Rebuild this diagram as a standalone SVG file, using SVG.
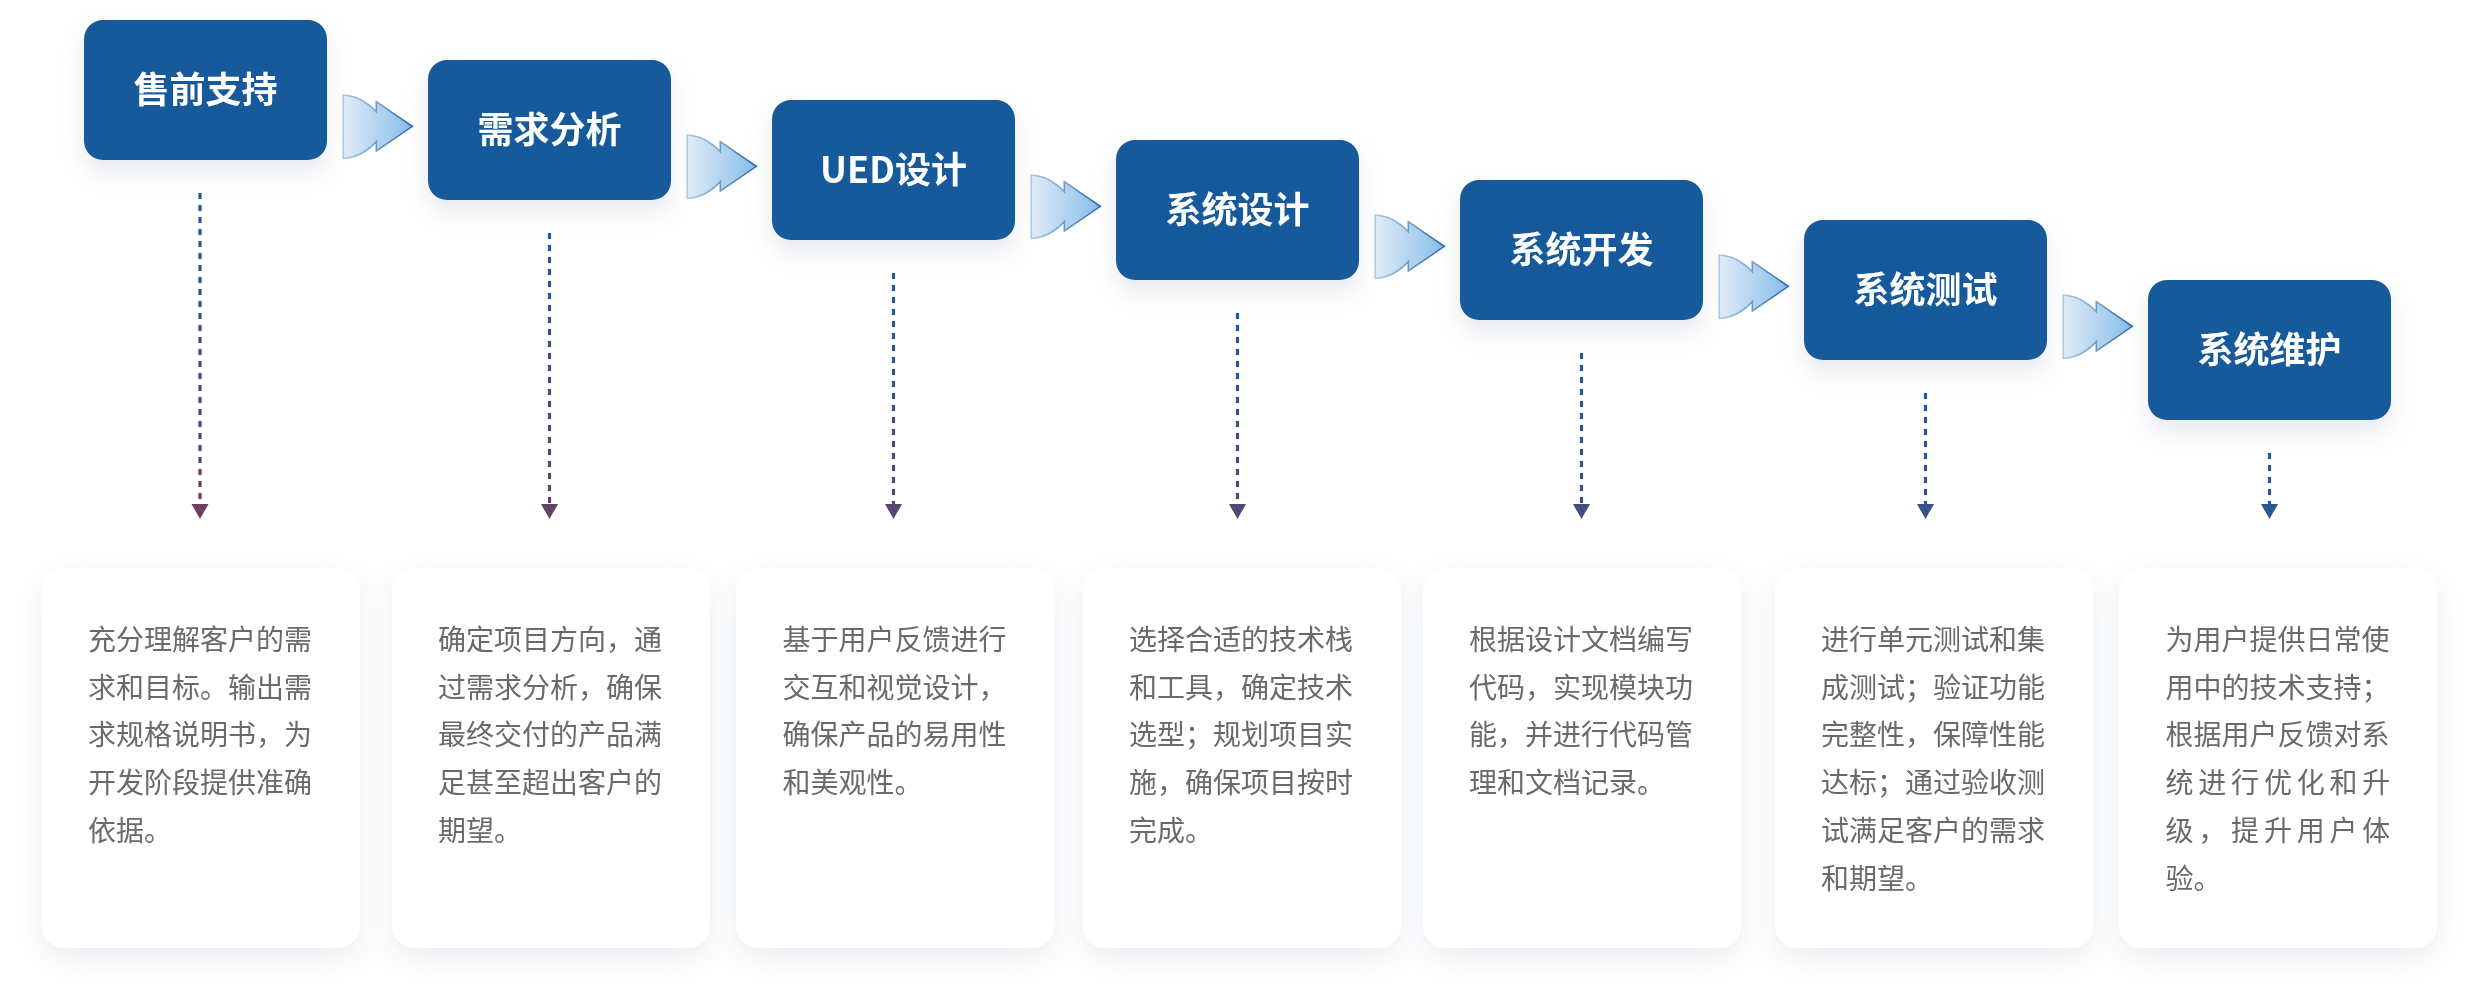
<svg xmlns="http://www.w3.org/2000/svg" width="2478" height="1008" viewBox="0 0 2478 1008">
<style>
.box{fill:#175a9b;}
.title{font-family:"Noto Sans CJK SC","Noto Sans",sans-serif;font-weight:700;font-size:36px;fill:#ffffff;text-anchor:middle;}
.card{fill:#ffffff;}
.desc{font-family:"Noto Sans CJK SC","Noto Sans",sans-serif;font-size:28px;fill:#6a6a6a;}
.chev{fill:url(#chevFill);stroke:url(#chevStroke);stroke-width:1.6;stroke-linejoin:miter;}
.dash{stroke-width:3.2;stroke-dasharray:6 6;fill:none;}
</style>
<defs>
<filter id="boxShadow" x="-30%" y="-30%" width="160%" height="180%">
<feDropShadow dx="0" dy="12" stdDeviation="12" flood-color="#b7c1d1" flood-opacity="0.35"/>
</filter>
<filter id="cardShadow" x="-20%" y="-15%" width="140%" height="135%">
<feDropShadow dx="0" dy="10" stdDeviation="14" flood-color="#cfd5df" flood-opacity="0.45"/>
</filter>
<linearGradient id="chevFill" x1="0" y1="0" x2="1" y2="0">
<stop offset="0" stop-color="#e0ebf6"/>
<stop offset="1" stop-color="#88bde9"/>
</linearGradient>
<linearGradient id="chevStroke" x1="0" y1="0" x2="1" y2="0">
<stop offset="0" stop-color="#aecae4"/>
<stop offset="1" stop-color="#2c68aa"/>
</linearGradient>
<linearGradient id="lg1" gradientUnits="userSpaceOnUse" x1="0" y1="193" x2="0" y2="519"><stop offset="0" stop-color="#1a5c9d"/><stop offset="1" stop-color="#6f3b5f"/></linearGradient>
<linearGradient id="lg2" gradientUnits="userSpaceOnUse" x1="0" y1="233" x2="0" y2="559"><stop offset="0" stop-color="#1a5c9d"/><stop offset="1" stop-color="#6f3b5f"/></linearGradient>
<linearGradient id="lg3" gradientUnits="userSpaceOnUse" x1="0" y1="273" x2="0" y2="599"><stop offset="0" stop-color="#1a5c9d"/><stop offset="1" stop-color="#6f3b5f"/></linearGradient>
<linearGradient id="lg4" gradientUnits="userSpaceOnUse" x1="0" y1="313" x2="0" y2="639"><stop offset="0" stop-color="#1a5c9d"/><stop offset="1" stop-color="#6f3b5f"/></linearGradient>
<linearGradient id="lg5" gradientUnits="userSpaceOnUse" x1="0" y1="353" x2="0" y2="679"><stop offset="0" stop-color="#1a5c9d"/><stop offset="1" stop-color="#6f3b5f"/></linearGradient>
<linearGradient id="lg6" gradientUnits="userSpaceOnUse" x1="0" y1="393" x2="0" y2="719"><stop offset="0" stop-color="#1a5c9d"/><stop offset="1" stop-color="#6f3b5f"/></linearGradient>
<linearGradient id="lg7" gradientUnits="userSpaceOnUse" x1="0" y1="453" x2="0" y2="779"><stop offset="0" stop-color="#1a5c9d"/><stop offset="1" stop-color="#6f3b5f"/></linearGradient>
<path id="chevShape" d="M0,0 Q18,1 33,16.7 L33,6.7 L69,31.3 L33,56 L33,46.6 Q18,62.4 0,63.4 Z"/>
</defs>

<rect width="2478" height="1008" fill="#ffffff"/>

<!-- description cards -->
<g id="card1" filter="url(#cardShadow)"><rect class="card" x="42" y="568" width="318" height="380" rx="22"/>
<text class="desc"><tspan x="88" y="650">充分理解客户的需</tspan><tspan x="88" y="697.7">求和目标。输出需</tspan><tspan x="88" y="745.4">求规格说明书，为</tspan><tspan x="88" y="793.1">开发阶段提供准确</tspan><tspan x="88" y="840.8">依据。</tspan></text></g>
<g id="card2" filter="url(#cardShadow)"><rect class="card" x="392" y="568" width="318" height="380" rx="22"/>
<text class="desc"><tspan x="438" y="650">确定项目方向，通</tspan><tspan x="438" y="697.7">过需求分析，确保</tspan><tspan x="438" y="745.4">最终交付的产品满</tspan><tspan x="438" y="793.1">足甚至超出客户的</tspan><tspan x="438" y="840.8">期望。</tspan></text></g>
<g id="card3" filter="url(#cardShadow)"><rect class="card" x="736" y="568" width="318" height="380" rx="22"/>
<text class="desc"><tspan x="782.5" y="650">基于用户反馈进行</tspan><tspan x="782.5" y="697.7">交互和视觉设计，</tspan><tspan x="782.5" y="745.4">确保产品的易用性</tspan><tspan x="782.5" y="793.1">和美观性。</tspan></text></g>
<g id="card4" filter="url(#cardShadow)"><rect class="card" x="1083" y="568" width="318" height="380" rx="22"/>
<text class="desc"><tspan x="1129" y="650">选择合适的技术栈</tspan><tspan x="1129" y="697.7">和工具，确定技术</tspan><tspan x="1129" y="745.4">选型；规划项目实</tspan><tspan x="1129" y="793.1">施，确保项目按时</tspan><tspan x="1129" y="840.8">完成。</tspan></text></g>
<g id="card5" filter="url(#cardShadow)"><rect class="card" x="1423" y="568" width="318" height="380" rx="22"/>
<text class="desc"><tspan x="1469" y="650">根据设计文档编写</tspan><tspan x="1469" y="697.7">代码，实现模块功</tspan><tspan x="1469" y="745.4">能，并进行代码管</tspan><tspan x="1469" y="793.1">理和文档记录。</tspan></text></g>
<g id="card6" filter="url(#cardShadow)"><rect class="card" x="1775" y="568" width="318" height="380" rx="22"/>
<text class="desc"><tspan x="1821" y="650">进行单元测试和集</tspan><tspan x="1821" y="697.7">成测试；验证功能</tspan><tspan x="1821" y="745.4">完整性，保障性能</tspan><tspan x="1821" y="793.1">达标；通过验收测</tspan><tspan x="1821" y="840.8">试满足客户的需求</tspan><tspan x="1821" y="888.5">和期望。</tspan></text></g>
<g id="card7" filter="url(#cardShadow)"><rect class="card" x="2119" y="568" width="318" height="380" rx="22"/>
<text class="desc"><tspan x="2165.5" y="650">为用户提供日常使</tspan><tspan x="2165.5" y="697.7">用中的技术支持；</tspan><tspan x="2165.5" y="745.4">根据用户反馈对系</tspan><tspan x="2165.5" y="793.1" letter-spacing="4.8">统进行优化和升</tspan><tspan x="2165.5" y="840.8" letter-spacing="4.8">级，提升用户体</tspan><tspan x="2165.5" y="888.5">验。</tspan></text></g>

<!-- step boxes -->
<g id="step1" filter="url(#boxShadow)"><rect class="box" x="84" y="20" width="243" height="140" rx="19"/><text class="title" x="205.5" y="103">售前支持</text></g>
<g id="step2" filter="url(#boxShadow)"><rect class="box" x="428" y="60" width="243" height="140" rx="19"/><text class="title" x="549.5" y="143">需求分析</text></g>
<g id="step3" filter="url(#boxShadow)"><rect class="box" x="772" y="100" width="243" height="140" rx="19"/><text class="title" x="893.5" y="183">UED设计</text></g>
<g id="step4" filter="url(#boxShadow)"><rect class="box" x="1116" y="140" width="243" height="140" rx="19"/><text class="title" x="1237.5" y="223">系统设计</text></g>
<g id="step5" filter="url(#boxShadow)"><rect class="box" x="1460" y="180" width="243" height="140" rx="19"/><text class="title" x="1581.5" y="263">系统开发</text></g>
<g id="step6" filter="url(#boxShadow)"><rect class="box" x="1804" y="220" width="243" height="140" rx="19"/><text class="title" x="1925.5" y="303">系统测试</text></g>
<g id="step7" filter="url(#boxShadow)"><rect class="box" x="2148" y="280" width="243" height="140" rx="19"/><text class="title" x="2269.5" y="363">系统维护</text></g>

<!-- connectors -->
<g id="connectors">
<use href="#chevShape" class="chev" transform="translate(343.3,95)"/>
<use href="#chevShape" class="chev" transform="translate(687.3,135)"/>
<use href="#chevShape" class="chev" transform="translate(1031.3,175)"/>
<use href="#chevShape" class="chev" transform="translate(1375.3,215)"/>
<use href="#chevShape" class="chev" transform="translate(1719.3,255)"/>
<use href="#chevShape" class="chev" transform="translate(2063.3,295)"/>

<line class="dash" x1="200" y1="193" x2="200" y2="504" stroke="url(#lg1)"/>
<polygon points="191.5,504 208.5,504 200,519" fill="url(#lg1)"/>
<line class="dash" x1="549.5" y1="233" x2="549.5" y2="504" stroke="url(#lg2)"/>
<polygon points="541,504 558,504 549.5,519" fill="url(#lg2)"/>
<line class="dash" x1="893.5" y1="273" x2="893.5" y2="504" stroke="url(#lg3)"/>
<polygon points="885,504 902,504 893.5,519" fill="url(#lg3)"/>
<line class="dash" x1="1237.5" y1="313" x2="1237.5" y2="504" stroke="url(#lg4)"/>
<polygon points="1229,504 1246,504 1237.5,519" fill="url(#lg4)"/>
<line class="dash" x1="1581.5" y1="353" x2="1581.5" y2="504" stroke="url(#lg5)"/>
<polygon points="1573,504 1590,504 1581.5,519" fill="url(#lg5)"/>
<line class="dash" x1="1925.5" y1="393" x2="1925.5" y2="504" stroke="url(#lg6)"/>
<polygon points="1917,504 1934,504 1925.5,519" fill="url(#lg6)"/>
<line class="dash" x1="2269.5" y1="453" x2="2269.5" y2="504" stroke="url(#lg7)"/>
<polygon points="2261,504 2278,504 2269.5,519" fill="url(#lg7)"/>
</g>
</svg>
